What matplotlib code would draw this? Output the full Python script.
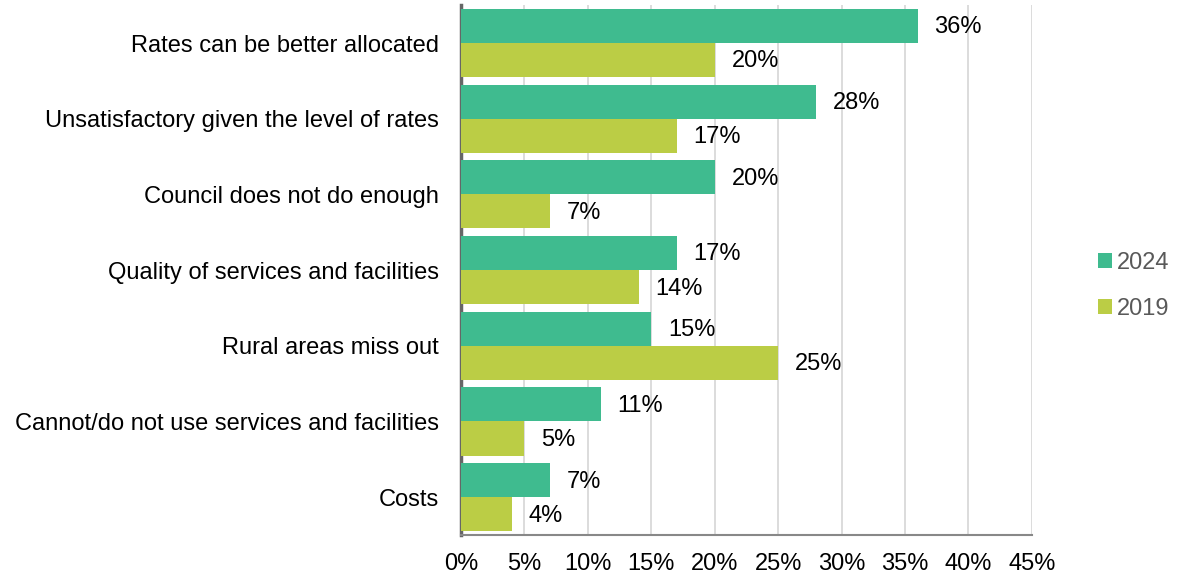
import numpy as np
import matplotlib.pyplot as plt

plt.rcParams['font.family'] = ['Liberation Sans', 'DejaVu Sans']

categories = ["Rates can be better allocated",
              "Unsatisfactory given the level of rates",
              "Council does not do enough",
              "Quality of services and facilities",
              "Rural areas miss out",
              "Cannot/do not use services and facilities",
              "Costs"]
vals_2024 = [36, 28, 20, 17, 15, 11, 7]
vals_2019 = [20, 17, 7, 14, 25, 5, 4]
xticks = [0, 5, 10, 15, 20, 25, 30, 35, 40, 45]

c2024 = "#3FBB8F"
c2019 = "#BBCD45"

fig = plt.figure(figsize=(11.77, 5.79), dpi=100)
ax = fig.add_axes([0.3917, 0.076, 0.485, 0.915])

y = np.arange(len(categories))
h = 0.45
b1 = ax.barh(y - h / 2, vals_2024, height=h, color=c2024, label="2024", zorder=3)
b2 = ax.barh(y + h / 2, vals_2019, height=h, color=c2019, label="2019", zorder=3)

fs = 17
for bars in (b1, b2):
    for rect in bars:
        w = rect.get_width()
        ax.annotate(f"{w:.0f}%", (w, rect.get_y() + rect.get_height() / 2),
                    xytext=(12, -1), textcoords="offset points",
                    va="center", ha="left", fontsize=fs, color="black")

ax.set_xlim(0, 45)
ax.set_ylim(6.5, -0.5)
ax.set_xticks(xticks)
ax.set_xticklabels([f"{t}%" for t in xticks], fontsize=fs)
ax.set_yticks(y)
ax.set_yticklabels(categories, fontsize=fs)
ax.tick_params(axis="both", length=0)
ax.tick_params(axis="y", pad=16)
ax.tick_params(axis="x", pad=13)
ax.xaxis.grid(True, color="#D6D6D6", linewidth=1.2, zorder=0)
ax.set_axisbelow(True)
for s in ("top", "right"):
    ax.spines[s].set_visible(False)
ax.spines["left"].set_color("#666666")
ax.spines["left"].set_linewidth(2.5)
ax.spines["bottom"].set_color("#888888")
ax.spines["bottom"].set_linewidth(1.5)

leg = ax.legend(loc="center left", bbox_to_anchor=(1.078, 0.47), frameon=False,
                fontsize=fs, handlelength=0.6, handleheight=0.6,
                handletextpad=0.2, labelspacing=1.0, labelcolor="#595959")

fig.savefig("out.png", dpi=100)
